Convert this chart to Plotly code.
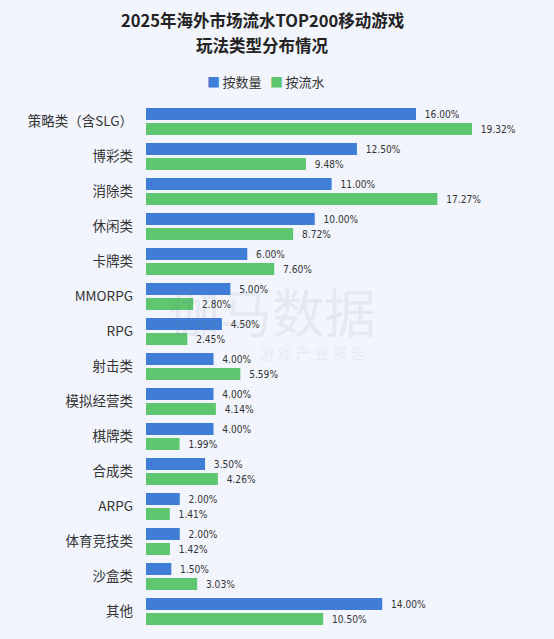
import plotly.graph_objects as go

categories = ["策略类（含SLG）", "博彩类", "消除类", "休闲类", "卡牌类", "MMORPG", "RPG", "射击类",
              "模拟经营类", "棋牌类", "合成类", "ARPG", "体育竞技类", "沙盒类", "其他"]
by_count = [16.00, 12.50, 11.00, 10.00, 6.00, 5.00, 4.50, 4.00, 4.00, 4.00, 3.50, 2.00, 2.00, 1.50, 14.00]
by_revenue = [19.32, 9.48, 17.27, 8.72, 7.60, 2.80, 2.45, 5.59, 4.14, 1.99, 4.26, 1.41, 1.42, 3.03, 10.50]
series_names = ["按数量", "按流水"]
title_lines = ["2025年海外市场流水TOP200移动游戏", "玩法类型分布情况"]

bg = "#f2f5fd"
blue = "#3f7dd7"
green = "#5dc66f"
cjk = "Noto Sans CJK SC"
num_font = dict(family="DejaVu Sans Condensed, Liberation Sans Narrow, sans-serif", size=13.5, color="#333333")

# plot area: x from 146 to 551 px, y from 104 to 629 px
L, T, PW, PH = 146, 104, 405, 525


def px_x(x):
    return (x - L) / PW


def px_y(y):
    return (T + PH - y) / PH


fig = go.Figure()
for name, vals, col in [(series_names[0], by_count, blue), (series_names[1], by_revenue, green)]:
    fig.add_trace(
        go.Bar(
            y=categories,
            x=vals,
            name=name,
            orientation="h",
            marker=dict(color=col, line=dict(width=0)),
            text=[f"  {v:.2f}%" for v in vals],
            textposition="outside",
            textfont=num_font,
            cliponaxis=False,
            showlegend=False,
        )
    )


def label(text, x, y, size, color, family=cjk):
    fig.add_annotation(
        text=text, x=px_x(x), y=px_y(y), xref="paper", yref="paper",
        xanchor="center", yanchor="middle", showarrow=False,
        font=dict(family=family, size=size, color=color),
    )


# faint watermark
wm = "rgba(120,125,140,0.11)"
label("伽马数据", 272, 310, 52, wm)
label("游 戏 产 业 报 告", 312, 352, 15, wm)

# title
for i, line in enumerate(title_lines):
    label(f"<b>{line}</b>", 262, 20 + 25 * i, 16.5, "#222222")

# legend drawn as text
for name, col, xc in [(series_names[0], blue, 234), (series_names[1], green, 297)]:
    label(f"<span style='color:{col}'>■</span>&#8201;{name}", xc, 81, 13, "#333333")

fig.update_layout(
    width=554,
    height=639,
    paper_bgcolor=bg,
    plot_bgcolor=bg,
    margin=dict(l=L, r=554 - L - PW, t=T, b=639 - T - PH, autoexpand=False),
    barmode="group",
    bargap=0.143,
    bargroupgap=0.2,
    showlegend=False,
    xaxis=dict(range=[0, 24], visible=False, showgrid=False, zeroline=False),
    yaxis=dict(
        autorange="reversed",
        showgrid=False,
        zeroline=False,
        showline=False,
        ticks="",
        ticklabelstandoff=12,
        tickfont=dict(family=cjk, size=13.5, color="#333333"),
    ),
)

fig.write_html(
    "out.html",
    config={"displayModeBar": False},
    post_script="document.body.style.margin='0';",
)
